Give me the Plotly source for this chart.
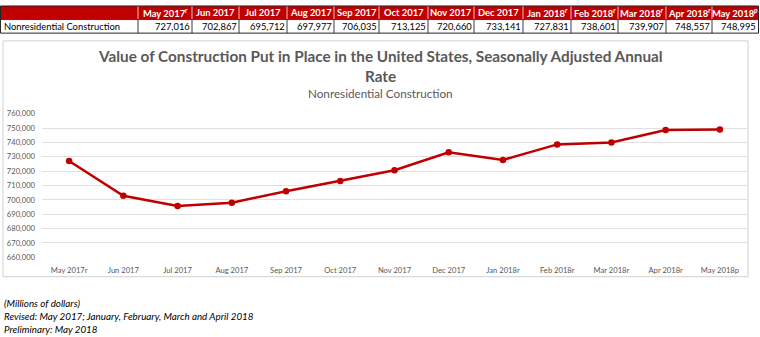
import plotly.graph_objects as go

W, H = 760, 337

# Monthly value of nonresidential construction put in place (millions of dollars, SAAR)
months = ["May 2017", "Jun 2017", "Jul 2017", "Aug 2017", "Sep 2017", "Oct 2017", "Nov 2017",
          "Dec 2017", "Jan 2018", "Feb 2018", "Mar 2018", "Apr 2018", "May 2018"]
status = ["r", "", "", "", "", "", "", "", "r", "r", "r", "r", "p"]
values = [727016, 702867, 695712, 697977, 706035, 713125, 720660,
          733141, 727831, 738601, 739907, 748557, 748995]
row_label = "Nonresidential Construction"

y_ticks = [660000, 670000, 680000, 690000, 700000, 710000, 720000,
           730000, 740000, 750000, 760000]

title_lines = ["Value of Construction Put in Place in the United States, Seasonally Adjusted Annual",
               "Rate"]
subtitle = "Nonresidential Construction"
notes = ["(Millions of dollars)",
         "Revised: May 2017; January, February, March and April 2018",
         "Preliminary: May 2018"]

RED = "#C00000"
GREY = "#595959"
FONT = "Lato"


def px(x):
    return x / W


def py(y):
    return 1 - y / H


x_labels = [m + s for m, s in zip(months, status)]

# ---- summary table above the chart (header row + one data row) ----
col_widths = [138, 54, 47, 48, 47, 45, 49, 46, 49, 48, 47, 48, 46, 46]
TABLE_TOP, ROW_H = 1, 14
edges = [0]
for w in col_widths:
    edges.append(edges[-1] + w)

header = [""] + [
    "<b>" + m + ("<sup><i>" + s + "</i></sup>" if s else "") + "</b>"
    for m, s in zip(months, status)
]
row = [row_label] + [f"{v:,}" for v in values]

shapes = []
annotations = []

y_h0, y_h1 = TABLE_TOP, TABLE_TOP + ROW_H
y_d0, y_d1 = y_h1, y_h1 + ROW_H

# header band
shapes.append(dict(type="rect", xref="paper", yref="paper", layer="below",
                   x0=px(edges[0]), x1=px(edges[-1]), y0=py(y_h1), y1=py(y_h0),
                   fillcolor=RED, line=dict(width=0)))
# column separators
for e in edges[1:-1]:
    shapes.append(dict(type="line", xref="paper", yref="paper",
                       x0=px(e), x1=px(e), y0=py(y_h1), y1=py(y_h0),
                       line=dict(color="#E8C0C0", width=1)))
    shapes.append(dict(type="line", xref="paper", yref="paper",
                       x0=px(e), x1=px(e), y0=py(y_d1), y1=py(y_d0),
                       line=dict(color="#3A3A3A", width=1)))
# row separator and outer border
shapes.append(dict(type="line", xref="paper", yref="paper",
                   x0=px(edges[0]), x1=px(edges[-1]), y0=py(y_h1), y1=py(y_h1),
                   line=dict(color="#3A3A3A", width=1)))
shapes.append(dict(type="rect", xref="paper", yref="paper",
                   x0=px(edges[0] + 0.5), x1=px(edges[-1] + 0.5), y0=py(y_d1), y1=py(y_h0),
                   line=dict(color="#262626", width=1), fillcolor="rgba(0,0,0,0)"))

for i, (h, c) in enumerate(zip(header, row)):
    x0, x1 = edges[i], edges[i + 1]
    if h:
        annotations.append(dict(text=h, x=px((x0 + x1) / 2), y=py((y_h0 + y_h1) / 2),
                                xref="paper", yref="paper", showarrow=False,
                                xanchor="center", yanchor="middle",
                                font=dict(family=FONT, size=9.4, color="white")))
    if i == 0:
        annotations.append(dict(text=c, x=px(x0 + 2), y=py((y_d0 + y_d1) / 2),
                                xref="paper", yref="paper", showarrow=False,
                                xanchor="left", yanchor="middle",
                                font=dict(family=FONT, size=9.4, color="black")))
    else:
        annotations.append(dict(text=c, x=px(x1), y=py((y_d0 + y_d1) / 2),
                                xref="paper", yref="paper", showarrow=False,
                                xanchor="right", yanchor="middle",
                                font=dict(family=FONT, size=9.4, color="black")))

# ---- chart ----
fig = go.Figure()
fig.add_trace(go.Scatter(
    x=x_labels,
    y=values,
    mode="lines+markers",
    line=dict(color=RED, width=2.5),
    marker=dict(color=RED, size=6.5),
    hoverinfo="x+y",
    showlegend=False,
))

# chart frame
shapes.append(dict(type="rect", xref="paper", yref="paper",
                   x0=px(3), x1=px(748), y0=py(280), y1=py(37),
                   line=dict(color="#D0D0D0", width=1), fillcolor="rgba(0,0,0,0)"))

annotations += [
    dict(text="<b>" + title_lines[0] + "</b>", x=px(380), y=py(53), xref="paper", yref="paper",
         showarrow=False, xanchor="center", yanchor="middle",
         font=dict(family=FONT, size=15.3, color=GREY)),
    dict(text="<b>" + title_lines[1] + "</b>", x=px(380), y=py(73), xref="paper", yref="paper",
         showarrow=False, xanchor="center", yanchor="middle",
         font=dict(family=FONT, size=15.3, color=GREY)),
    dict(text=subtitle, x=px(380), y=py(91), xref="paper", yref="paper",
         showarrow=False, xanchor="center", yanchor="middle",
         font=dict(family=FONT, size=11.7, color=GREY)),
]
for i, note in enumerate(notes):
    annotations.append(dict(
        text="<i>" + note + "</i>", x=px(2), y=py(307 + 13.5 * i), xref="paper", yref="paper",
        showarrow=False, xanchor="left", yanchor="middle",
        font=dict(family=FONT, size=9.8, color="black")))

fig.update_layout(
    width=W, height=H,
    margin=dict(l=0, r=0, t=0, b=0),
    paper_bgcolor="white",
    plot_bgcolor="white",
    shapes=shapes,
    annotations=annotations,
    xaxis=dict(
        domain=[px(42), px(747)],
        type="category",
        categoryorder="array",
        categoryarray=x_labels,
        range=[-0.5, len(x_labels) - 0.5],
        showgrid=False, zeroline=False, showline=False, ticks="",
        tickfont=dict(family=FONT, size=7.6, color=GREY),
        ticklabelstandoff=7,
    ),
    yaxis=dict(
        domain=[py(260), py(112)],
        range=[660000, 760000],
        tickvals=y_ticks,
        tickformat=",d",
        showgrid=True, gridcolor="#E0E0E0", gridwidth=1,
        zeroline=False, showline=False, ticks="",
        tickfont=dict(family=FONT, size=7.6, color=GREY),
        ticklabelstandoff=6,
    ),
)

fig.write_html("out.html")
